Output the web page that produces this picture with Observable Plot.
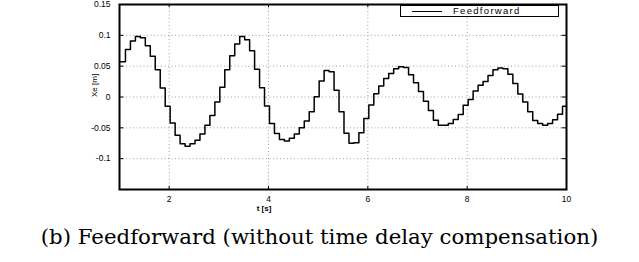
<!DOCTYPE html>
<html>
<head>
<meta charset="utf-8">
<script src="https://cdn.jsdelivr.net/npm/d3@7"></script>
<script src="https://cdn.jsdelivr.net/npm/@observablehq/plot@0.6"></script>
<style>
  html, body { margin: 0; padding: 0; background: #fff; }
  #wrap { position: relative; width: 639px; }
  #legend { position: absolute; left: 400px; top: 5px; width: 157px; height: 10px;
            border: 1.5px solid #000; background: #fff; font-family: "Liberation Sans", Arial, sans-serif;
            font-size: 9.5px; letter-spacing: 1.3px; }
  #legend .ln { position: absolute; left: 11px; top: 5px; width: 30px; border-top: 1px solid #000; }
  #legend .tx { position: absolute; left: 52px; top: -1px; line-height: 11px; }
  #caption { font-family: "DejaVu Serif", serif; font-size: 21.3px; text-align: center;
             width: 639px; margin-top: 9px; }
</style>
</head>
<body>
<div id="wrap">
  <div id="chart"></div>
  <div id="legend"><div class="ln"></div><div class="tx">Feedforward</div></div>
  <div id="caption">(b) Feedforward (without time delay compensation)</div>
</div>
<script>
// Sampled step output (0.1 s sample period), Xe in metres
const sampleStart = 1.02;
const samplePeriod = 0.1;
const xeValues = [
  0.057, 0.077, 0.091, 0.098, 0.096, 0.083, 0.066, 0.044, 0.0145, -0.015,
  -0.042, -0.062, -0.076, -0.080, -0.076, -0.070, -0.060, -0.046, -0.030, -0.008,
  0.016, 0.044, 0.067, 0.086, 0.098, 0.093, 0.075, 0.045, 0.015, -0.0145,
  -0.043, -0.059, -0.069, -0.0715, -0.067, -0.060, -0.050, -0.039, -0.024, 0.0005,
  0.026, 0.043, 0.041, 0.011, -0.024, -0.0586, -0.075, -0.074, -0.058, -0.035,
  -0.013, 0.0054, 0.018, 0.030, 0.038, 0.046, 0.049, 0.048, 0.036, 0.023,
  0.009, -0.007, -0.022, -0.0376, -0.046, -0.046, -0.043, -0.0366, -0.0285, -0.0134,
  -0.004, 0.0097, 0.019, 0.025, 0.035, 0.044, 0.047, 0.046, 0.037, 0.022,
  0.005, -0.008, -0.024, -0.038, -0.043, -0.046, -0.043, -0.037, -0.028, -0.015
];
const xDomain = [1, 10];
const yDomain = [-0.15, 0.15];
const xTicks = [2, 4, 6, 8, 10];
const xGrid = [2, 4, 6, 8];
const yTicks = [-0.1, -0.05, 0, 0.05, 0.1, 0.15];
const yGrid = [-0.1, -0.05, 0, 0.05, 0.1];
const yTickLabels = ["-0.1", "-0.05", "0", "0.05", "0.1", "0.15"];

const series = xeValues.map((v, k) => ({t: k === 0 ? xDomain[0] : sampleStart + samplePeriod * k, v}));
series.push({t: xDomain[1], v: xeValues[xeValues.length - 1]});

const tickLenX = 0.09, tickLenY = 0.005;
const font = "Liberation Sans, Arial, sans-serif";

const chart = Plot.plot({
  width: 639,
  height: 215,
  marginLeft: 119,
  marginRight: 73,
  marginTop: 4,
  marginBottom: 26,
  style: {fontFamily: font, fontSize: "8.5px", background: "#fff", color: "#000"},
  x: {domain: xDomain},
  y: {domain: yDomain},
  marks: [
    Plot.ruleX(xGrid, {stroke: "#888", strokeDasharray: "1,2.5", strokeWidth: 0.8}),
    Plot.ruleY(yGrid, {stroke: "#888", strokeDasharray: "1,2.5", strokeWidth: 0.8}),
    // inward tick marks (MATLAB style)
    Plot.ruleX(xTicks, {y1: yDomain[0], y2: yDomain[0] + tickLenY, stroke: "#000"}),
    Plot.ruleX(xTicks, {y1: yDomain[1], y2: yDomain[1] - tickLenY, stroke: "#000"}),
    Plot.ruleY(yTicks, {x1: xDomain[0], x2: xDomain[0] + tickLenX, stroke: "#000"}),
    Plot.ruleY(yTicks, {x1: xDomain[1], x2: xDomain[1] - tickLenX, stroke: "#000"}),
    Plot.line(series, {x: "t", y: "v", curve: "step-after", stroke: "#000", strokeWidth: 1.5}),
    Plot.frame({stroke: "#000", strokeWidth: 2}),
    Plot.axisX(xTicks, {tickSize: 0, tickPadding: 6, label: null, fontSize: 8.5,
      style: {letterSpacing: "1px"}}),
    Plot.axisY(yTicks, {tickSize: 0, tickPadding: 9, label: null, fontSize: 8.5,
      tickFormat: (d) => yTickLabels[yTicks.indexOf(d)], style: {letterSpacing: "1px"}}),
    Plot.text(["t [s]"], {frameAnchor: "bottom", dy: 21, dx: -79, fontSize: 8, fontWeight: "bold",
      style: {letterSpacing: "0.7px"}}),
    Plot.text(["Xe [m]"], {frameAnchor: "left", dx: -25, rotate: -90, fontSize: 8})
  ]
});
document.getElementById("chart").appendChild(chart);
</script>
</body>
</html>
